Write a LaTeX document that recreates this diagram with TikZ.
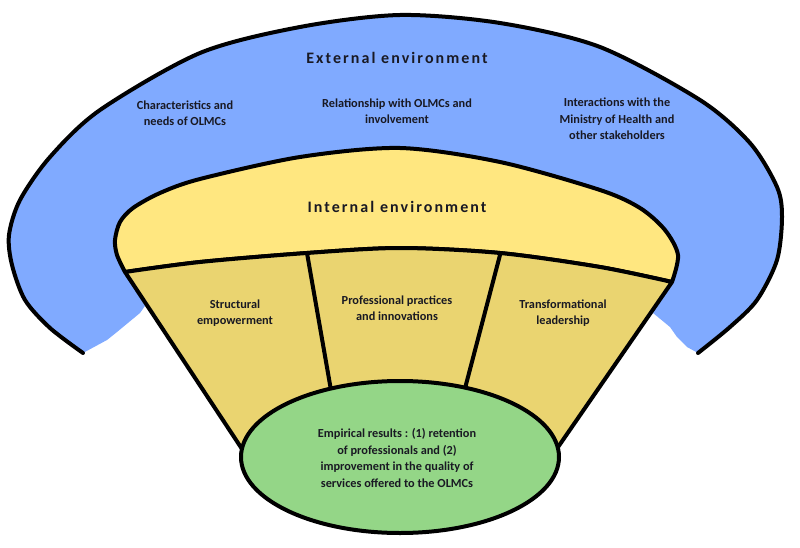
\documentclass[tikz,border=0pt]{standalone}
\usepackage{fontspec}
\setmainfont{Carlito}
\newfontfamily\titlefont[LetterSpace=13]{Carlito}
\definecolor{blueA}{RGB}{128,170,255}
\definecolor{yellowA}{RGB}{255,231,128}
\definecolor{tanA}{RGB}{234,212,112}
\definecolor{greenA}{RGB}{148,214,135}
\definecolor{txt}{RGB}{25,25,35}
\tikzset{
  outline/.style={line width=4pt, line join=round, line cap=round, draw=black},
  lbl/.style={font=\bfseries\fontsize{12.3}{16.5}\selectfont, align=center, text=txt, inner sep=0pt},
  ttl/.style={font=\titlefont\bfseries\fontsize{16}{19}\selectfont, text=txt, inner sep=0pt}
}
\begin{document}
\begin{tikzpicture}[x=1pt,y=-1pt]
\useasboundingbox (0,0) rectangle (800,548);
% blue external band
\fill[blueA] plot[smooth] coordinates {(83,353)(50,328)(25,300)(12,265)(9,235)(20,200)(50,157)(100,110)(200,53)(300,27)(400,15)(500,23)(600,47)(700,100)(750,143)(777,187)(782,217)(777,260)(757,300)(730,327)(698,353)}
  -- (687,347) -- (677,337) -- (670,327) -- (653,313) -- (600,300) -- (400,290) -- (180,300) -- (147,303) -- (140,313) -- (117,332) -- (107,340) -- cycle;
\draw[outline] plot[smooth] coordinates {(83,353)(50,328)(25,300)(12,265)(9,235)(20,200)(50,157)(100,110)(200,53)(300,27)(400,15)(500,23)(600,47)(700,100)(750,143)(777,187)(782,217)(777,260)(757,300)(730,327)(698,353)};
% yellow internal
\draw[outline, fill=yellowA] plot[smooth] coordinates {(125,272)(117,255)(115,240)(120,222)(133,208)(160,193)(200,179)(300,157)(400,148)(500,162)(600,190)(640,208)(665,230)(678,255)(672,282)}
  -- plot[smooth] coordinates {(672,282)(600,267)(500,253)(400,248)(307,253)(200,262)(125,272)} -- cycle;
% cone
\draw[outline, fill=tanA] plot[smooth] coordinates {(125,272)(200,262)(307,253)(400,248)(500,253)(600,267)(672,282)}
  -- (556,450) -- (246,455) -- cycle;
\draw[outline] (307,253) -- (332,396);
\draw[outline] (500,255) -- (463,396);
% green result
\draw[outline, fill=greenA] (400,457) ellipse [x radius=159pt, y radius=76pt];
% texts
\node[ttl] (ext) at (397,58) {External environment};
\node[ttl] (int) at (397,207) {Internal environment};
\node[lbl] (c1) at (185,113) {Characteristics and\\needs of OLMCs};
\node[lbl] (c2) at (397,111) {Relationship with OLMCs and\\involvement};
\node[lbl] (c3) at (617,119) {Interactions with the\\Ministry of Health and\\other stakeholders};
\node[lbl] (s1) at (235,313) {Structural\\empowerment};
\node[lbl] (s2) at (397,308) {Professional practices\\and innovations};
\node[lbl] (s3) at (563,313) {Transformational\\leadership};
\node[lbl] (res) at (397,458) {Empirical results : (1) retention\\of professionals and (2)\\improvement in the quality of\\services offered to the OLMCs};
\end{tikzpicture}
\end{document}
